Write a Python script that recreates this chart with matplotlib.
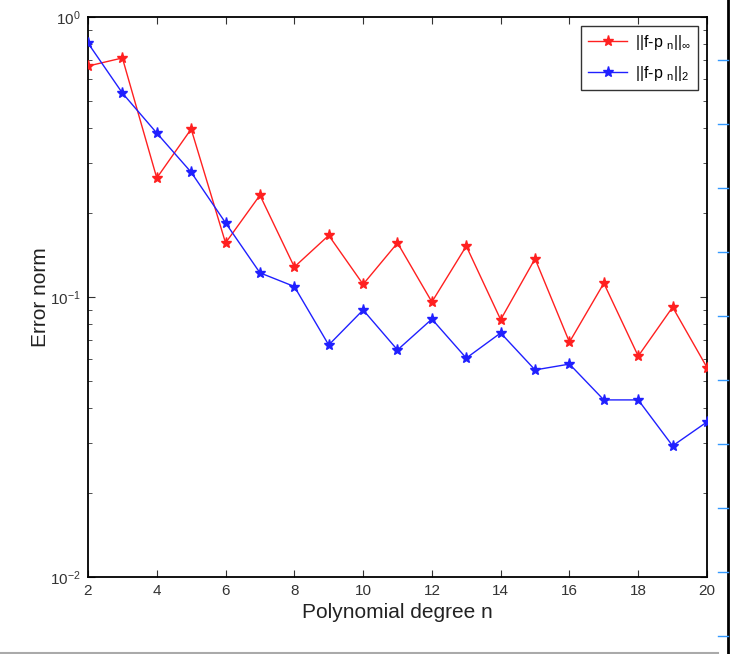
import matplotlib.pyplot as plt
from matplotlib.lines import Line2D
from matplotlib.ticker import LogLocator, NullFormatter

plt.rcParams["font.family"] = ["Liberation Sans", "DejaVu Sans"]
plt.rcParams["mathtext.default"] = "regular"

degrees = list(range(2, 21))

err_inf = [0.668, 0.714, 0.266, 0.398, 0.156, 0.231, 0.128, 0.166, 0.111, 0.156,
           0.096, 0.152, 0.083, 0.137, 0.069, 0.112, 0.0615, 0.092, 0.056]

err_two = [0.807, 0.535, 0.385, 0.279, 0.184, 0.122, 0.109, 0.0674, 0.0899, 0.0647,
           0.0834, 0.0605, 0.0744, 0.0549, 0.0576, 0.0429, 0.0429, 0.0294, 0.0358]

xticks = list(range(2, 21, 2))

fig = plt.figure(figsize=(7.31, 6.54), dpi=100)
ax = fig.add_axes([88 / 731, 77 / 654, 619 / 731, 560 / 654])

ax.semilogy(degrees, err_inf, "-*", color="#ff2020", linewidth=1.0,
            markersize=8, label=r"||f-p $_n$||$_\infty$", zorder=3)
ax.semilogy(degrees, err_two, "-*", color="#2020ff", linewidth=1.0,
            markersize=8, label=r"||f-p $_n$||$_2$", zorder=3)

ax.set_xlim(2, 20)
ax.set_ylim(1e-2, 1e0)
ax.set_xticks(xticks)
ax.set_xticklabels([str(t) for t in xticks])
ax.yaxis.set_major_locator(LogLocator(base=10, numticks=5))
ax.yaxis.set_minor_locator(LogLocator(base=10, subs=range(2, 10), numticks=20))
ax.yaxis.set_minor_formatter(NullFormatter())

ax.tick_params(which="both", direction="in", top=True, right=True,
               labelsize=11, colors="#333333", pad=5)
ax.tick_params(which="major", length=5)
ax.tick_params(which="minor", length=3)
for side in ax.spines.values():
    side.set_linewidth(1.3)

ax.set_xlabel("Polynomial degree n", fontsize=15, color="#222222", labelpad=4)
ax.set_ylabel("Error norm", fontsize=15, color="#222222", labelpad=0)

ax.legend(loc="upper right", fontsize=11.5, frameon=True, fancybox=False,
          edgecolor="black", bbox_to_anchor=(1, 1), borderaxespad=0.55,
          handlelength=2.4, handletextpad=0.5, labelspacing=0.75,
          borderpad=0.45).get_frame().set_linewidth(1.0)

# page edge on the right with its small blue ruler marks
fig.add_artist(Line2D([728 / 731, 728 / 731], [0, 1], color="black",
                      linewidth=2, transform=fig.transFigure))
for y in range(60, 654, 64):
    fig.add_artist(Line2D([718 / 731, 728 / 731], [1 - y / 654, 1 - y / 654],
                          color="#3399ff", linewidth=1, transform=fig.transFigure))
fig.add_artist(Line2D([0, 718 / 731], [1 - 652.5 / 654, 1 - 652.5 / 654],
                      color="#aaaaaa", linewidth=1.5, transform=fig.transFigure))

fig.savefig("out.png", dpi=100)
